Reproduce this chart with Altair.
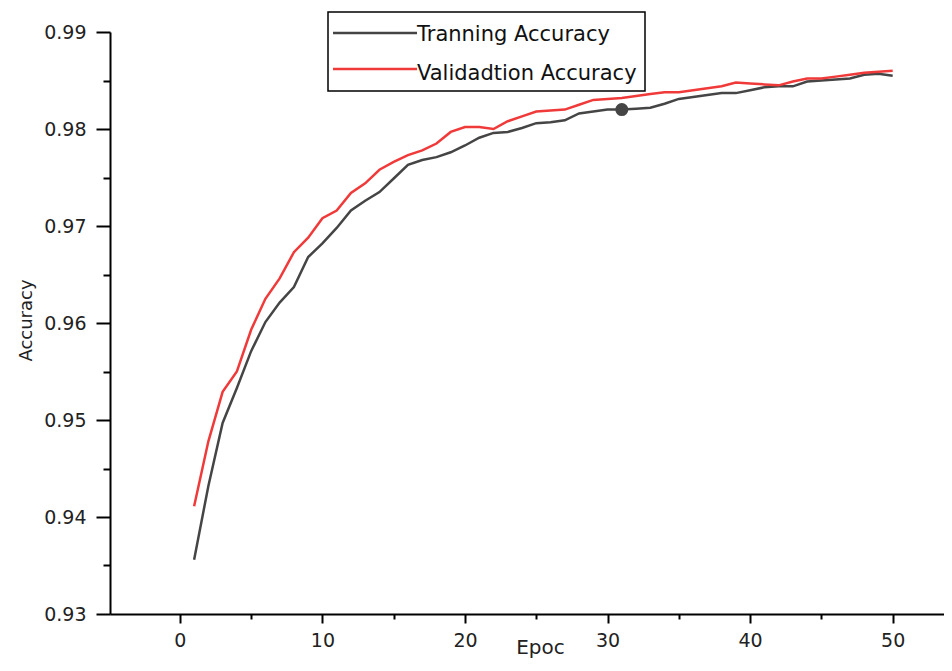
import altair as alt
import pandas as pd

epochs = list(range(1, 51))
train_acc = [0.9356, 0.9432, 0.9497, 0.9533, 0.9571, 0.9601, 0.9621, 0.9637, 0.9668, 0.9682,
             0.9698, 0.9716, 0.9726, 0.9735, 0.9749, 0.9763, 0.9768, 0.9771, 0.9776, 0.9783,
             0.9791, 0.9796, 0.9797, 0.9801, 0.9806, 0.9807, 0.9809, 0.9816, 0.9818, 0.9820,
             0.9820, 0.9821, 0.9822, 0.9826, 0.9831, 0.9833, 0.9835, 0.9837, 0.9837, 0.9840,
             0.9843, 0.9844, 0.9844, 0.9849, 0.9850, 0.9851, 0.9852, 0.9856, 0.9857, 0.9855]
val_acc = [0.9411, 0.9478, 0.9529, 0.9550, 0.9593, 0.9625, 0.9646, 0.9673, 0.9688, 0.9708,
           0.9716, 0.9734, 0.9744, 0.9758, 0.9766, 0.9773, 0.9778, 0.9785, 0.9797, 0.9802,
           0.9802, 0.9800, 0.9808, 0.9813, 0.9818, 0.9819, 0.9820, 0.9825, 0.9830, 0.9831,
           0.9832, 0.9834, 0.9836, 0.9838, 0.9838, 0.9840, 0.9842, 0.9844, 0.9848, 0.9847,
           0.9846, 0.9845, 0.9849, 0.9852, 0.9852, 0.9854, 0.9856, 0.9858, 0.9859, 0.9860]
series_names = ["Tranning Accuracy", "Validadtion Accuracy"]
series_colors = ["#454545", "#f03a3a"]
marker_epoch = [31]
marker_value = [0.9820]
x_ticks = [0, 5, 10, 15, 20, 25, 30, 35, 40, 45, 50]
y_ticks = [round(0.93 + 0.005 * i, 3) for i in range(13)]

FONT = "DejaVu Sans"

df = pd.DataFrame({
    "epoch": epochs * 2,
    "acc": train_acc + val_acc,
    "series": [series_names[0]] * len(epochs) + [series_names[1]] * len(epochs),
    "order": [0] * len(epochs) + [1] * len(epochs),
})
mk = pd.DataFrame({"epoch": marker_epoch, "acc": marker_value})

xscale = alt.Scale(domain=[-4.9, 53.6], nice=False, zero=False)
yscale = alt.Scale(domain=[0.93, 0.99], nice=False, zero=False)

x_axis = alt.Axis(
    values=x_ticks, grid=False, domainColor="black", domainWidth=2,
    tickColor="black", tickWidth=2,
    tickSize={"condition": {"test": "datum.value % 10 === 0", "value": 9}, "value": 5},
    labelExpr="datum.value % 10 === 0 ? datum.label : ''",
    labelFont=FONT, labelFontSize=19, labelColor="#222", labelPadding=8,
    title="Epoc", titleFont=FONT, titleFontSize=20, titleFontWeight="normal",
    titleColor="#222", titleX=430, titleY=39, titleBaseline="alphabetic", titleAnchor="middle",
)
y_axis = alt.Axis(
    values=y_ticks, grid=False, domainColor="black", domainWidth=2,
    tickColor="black", tickWidth=2,
    tickSize={"condition": {"test": "round(datum.value * 1000) % 10 === 0", "value": 14}, "value": 7},
    labelExpr="round(datum.value * 1000) % 10 === 0 ? format(datum.value, '.2f') : ''",
    labelFont=FONT, labelFontSize=19, labelColor="#222", labelPadding=10,
    title="Accuracy", titleFont=FONT, titleFontSize=18, titleFontWeight="normal",
    titleColor="#222", titleAngle=270, titleX=-79, titleY=288,
    titleBaseline="alphabetic", titleAlign="center",
)

lines = alt.Chart(df).mark_line(strokeWidth=2.5).encode(
    x=alt.X("epoch:Q", scale=xscale, axis=x_axis),
    y=alt.Y("acc:Q", scale=yscale, axis=y_axis),
    color=alt.Color("series:N", scale=alt.Scale(domain=series_names, range=series_colors), legend=None),
    order="order:Q",
    detail="series:N",
)

dot = alt.Chart(mk).mark_point(filled=True, shape="circle", size=170, opacity=1, color="#454545").encode(
    x=alt.X("epoch:Q", scale=xscale), y=alt.Y("acc:Q", scale=yscale)
)

# Legend drawn manually
box = alt.Chart(pd.DataFrame({"a": [0]})).mark_rect(
    fill="white", stroke="black", strokeWidth=1.5
).encode(x=alt.value(218), x2=alt.value(535), y=alt.value(-20), y2=alt.value(59))

leg_line1 = alt.Chart(pd.DataFrame({"a": [0]})).mark_rule(color=series_colors[0], strokeWidth=2.5).encode(
    x=alt.value(223), x2=alt.value(307), y=alt.value(1))
leg_line2 = alt.Chart(pd.DataFrame({"a": [0]})).mark_rule(color=series_colors[1], strokeWidth=2.5).encode(
    x=alt.value(223), x2=alt.value(307), y=alt.value(37))
leg_text1 = alt.Chart(pd.DataFrame({"t": [series_names[0]]})).mark_text(
    font=FONT, fontSize=21, align="left", baseline="alphabetic", color="#111"
).encode(text="t:N", x=alt.value(307), y=alt.value(9))
leg_text2 = alt.Chart(pd.DataFrame({"t": [series_names[1]]})).mark_text(
    font=FONT, fontSize=21, align="left", baseline="alphabetic", color="#111"
).encode(text="t:N", x=alt.value(307), y=alt.value(48))

chart = alt.layer(lines, dot, box, leg_line1, leg_line2, leg_text1, leg_text2).properties(
    width=834, height=582,
    padding={"left": 102, "top": 24, "right": 0, "bottom": 45},
    autosize=alt.AutoSizeParams(type="none"),
    background="white",
).configure_view(stroke=None)

chart.save("out.html", embed_options={"renderer": "svg", "actions": False})
